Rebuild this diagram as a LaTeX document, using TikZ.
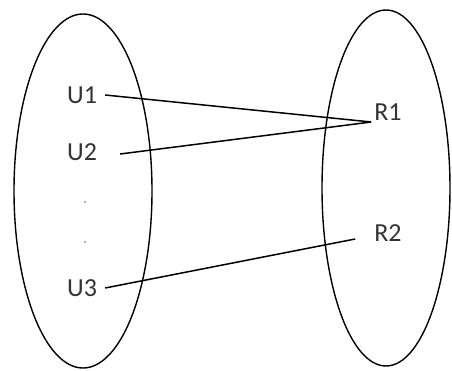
\documentclass[tikz,border=0pt]{standalone}
\usepackage{fontspec}
\setmainfont{Carlito}
\begin{document}
\begin{tikzpicture}[x=1pt, y=-1pt,
    elem/.style={font=\fontsize{26}{30}\selectfont, text=black!80, inner sep=3pt},
    link/.style={line width=1.5pt}]
    \useasboundingbox (0,0) rectangle (452,371);

    % Set outlines
    \draw[line width=1.4pt] (83,191) ellipse [x radius=69, y radius=177];
    \draw[line width=1.4pt] (386,188) ellipse [x radius=64, y radius=178];

    % Elements of the left set
    \node[elem] (u1) at (82,95) {U1};
    \node[elem] (u2) at (82,152) {U2};
    \node[elem] (u3) at (82,288) {U3};

    % Elements of the right set
    \node[elem] (r1) at (388,112) {R1};
    \node[elem] (r2) at (388,233) {R2};

    % Ellipsis dots
    \fill[gray] (85,202) circle (1pt);
    \fill[gray] (85,242) circle (1pt);

    % Mapping
    \coordinate (r1tip) at ([yshift=-10pt]r1.west);
    \draw[link] ([xshift=5pt]u1.east) -- (r1tip);
    \draw[link] ([xshift=20pt,yshift=-2pt]u2.east) -- (r1tip);
    \draw[link] ([xshift=5pt]u3.east) -- ([xshift=-16pt,yshift=-6pt]r2.west);
\end{tikzpicture}
\end{document}
